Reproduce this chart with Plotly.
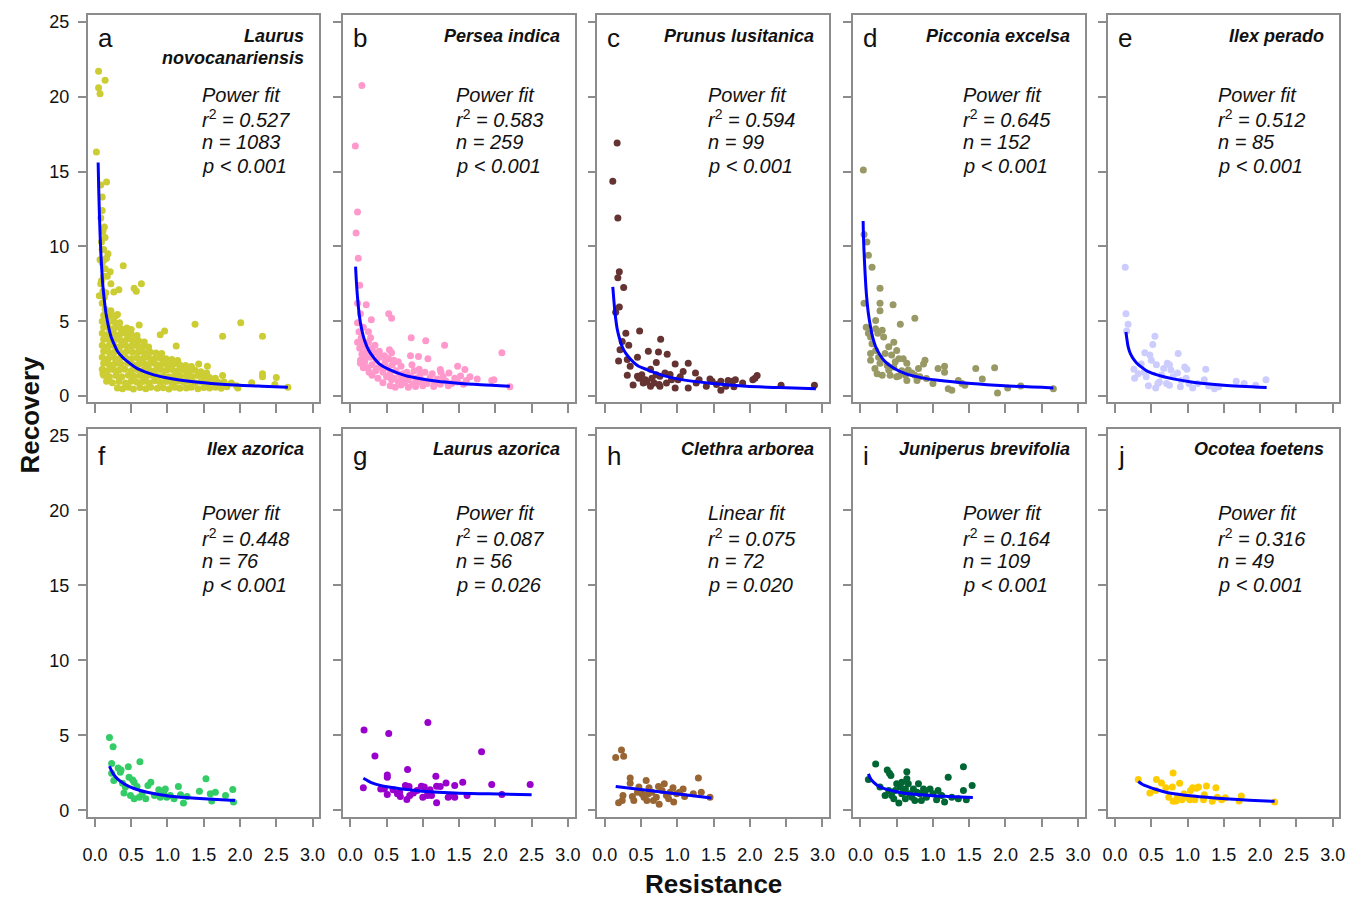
import plotly.graph_objects as go

W, H = 1363, 899

# ---------------- data ----------------
letters = ["a", "b", "c", "d", "e", "f", "g", "h", "i", "j"]
species = [["Laurus", "novocanariensis"], ["Persea indica"], ["Prunus lusitanica"],
           ["Picconia excelsa"], ["Ilex perado"], ["Ilex azorica"], ["Laurus azorica"],
           ["Clethra arborea"], ["Juniperus brevifolia"], ["Ocotea foetens"]]
fit_type = ["Power fit"] * 7 + ["Linear fit"] + ["Power fit"] * 2
r2_vals = ["0.527", "0.583", "0.594", "0.645", "0.512", "0.448", "0.087", "0.075", "0.164", "0.316"]
n_vals = ["1083", "259", "99", "152", "85", "76", "56", "72", "109", "49"]
p_vals = ["< 0.001", "< 0.001", "< 0.001", "< 0.001", "< 0.001", "< 0.001", "= 0.026", "= 0.020", "< 0.001", "< 0.001"]
colors = ["#CCCC33", "#FF99CC", "#663333", "#999966", "#CCCCFF",
          "#33CC66", "#9900CC", "#996633", "#006633", "#FFCC00"]

x_ticks = [0.0, 0.5, 1.0, 1.5, 2.0, 2.5, 3.0]
y_ticks = [0, 5, 10, 15, 20, 25]

pts_a = [
    [0.05, 21.7], [0.05, 20.6], [0.07, 20.2], [0.14, 21.1], [0.02, 16.3], [0.16, 14.3], [0.08, 14.1],
    [0.10, 13.3], [0.10, 12.4], [0.08, 11.9], [0.13, 11.3], [0.11, 11.0], [0.10, 9.8], [0.18, 9.5],
    [0.13, 9.1], [0.07, 9.1], [0.39, 8.7], [0.21, 8.3], [0.17, 8.0], [0.08, 7.5], [0.22, 7.5],
    [0.54, 7.2], [0.57, 7.0], [0.64, 7.5], [0.33, 7.1], [0.26, 6.95], [0.06, 6.7], [0.31, 5.45],
    [1.38, 4.8], [2.01, 4.9], [2.31, 4.0], [1.76, 4.0], [1.12, 3.35], [0.90, 4.1], [0.96, 4.35],
    [0.61, 4.75], [1.55, 2.0], [1.43, 2.15], [2.31, 1.5], [2.31, 1.3], [2.50, 1.25], [1.76, 1.37],
    [2.16, 0.9], [1.97, 0.55], [2.66, 0.6], [2.48, 0.77], [0.11, 1.5], [1.95, 0.7],
    [0.10, 6.2], [0.13, 6.6], [0.11, 7.0], [0.15, 6.9], [0.09, 7.7], [0.12, 8.0], [0.14, 8.5],
    [0.10, 8.9], [0.16, 9.2], [0.12, 9.8], [0.09, 10.3], [0.14, 10.6],
    [0.31, 0.55], [0.38, 0.5], [0.46, 0.6], [0.53, 0.48], [0.62, 0.58], [0.70, 0.5], [0.77, 0.6],
    [0.86, 0.52], [0.94, 0.56], [1.02, 0.48], [1.10, 0.6], [1.17, 0.52], [1.26, 0.55], [1.33, 0.6],
    [1.42, 0.5], [1.50, 0.58], [1.58, 0.55], [1.66, 0.6], [1.74, 0.52], [1.82, 0.62],
    [0.16, 1.0], [0.24, 0.9], [0.33, 0.97], [0.42, 0.88], [0.50, 1.0], [0.58, 0.92], [0.66, 0.98],
    [0.74, 0.9], [0.82, 1.02], [0.90, 0.93], [0.98, 0.97], [1.06, 0.9], [1.14, 1.0], [1.22, 0.92],
    [1.30, 0.98], [1.38, 0.9], [1.46, 0.96], [1.54, 0.9], [1.62, 0.98], [1.70, 0.92], [1.78, 0.95],
    [1.88, 0.88],
    [0.12, 1.4], [0.20, 1.3], [0.29, 1.38], [0.37, 1.3], [0.46, 1.4], [0.54, 1.32], [0.62, 1.37],
    [0.70, 1.3], [0.78, 1.4], [0.86, 1.33], [0.94, 1.36], [1.02, 1.3], [1.10, 1.38], [1.18, 1.32],
    [1.26, 1.36], [1.34, 1.3], [1.42, 1.37], [1.50, 1.3], [1.58, 1.25], [1.66, 1.2],
    [0.10, 1.8], [0.17, 1.7], [0.25, 1.78], [0.33, 1.72], [0.41, 1.8], [0.50, 1.7], [0.58, 1.78],
    [0.66, 1.72], [0.74, 1.8], [0.82, 1.7], [0.90, 1.77], [0.98, 1.72], [1.06, 1.78], [1.14, 1.7],
    [1.22, 1.74], [1.30, 1.68], [1.38, 1.72], [1.46, 1.62], [1.54, 1.55],
    [0.12, 2.2], [0.20, 2.1], [0.28, 2.18], [0.36, 2.12], [0.45, 2.2], [0.53, 2.1], [0.61, 2.17],
    [0.69, 2.12], [0.77, 2.2], [0.85, 2.1], [0.93, 2.16], [1.01, 2.1], [1.09, 2.15], [1.17, 2.08],
    [1.25, 2.05], [1.33, 1.98],
    [0.10, 2.6], [0.18, 2.5], [0.26, 2.58], [0.34, 2.52], [0.42, 2.6], [0.50, 2.5], [0.58, 2.57],
    [0.66, 2.52], [0.74, 2.58], [0.82, 2.5], [0.90, 2.55], [0.98, 2.5], [1.06, 2.45], [1.14, 2.38],
    [0.12, 3.0], [0.20, 2.92], [0.28, 2.98], [0.36, 2.9], [0.44, 3.0], [0.52, 2.93], [0.60, 2.97],
    [0.68, 2.9], [0.76, 2.95], [0.84, 2.88], [0.92, 2.85],
    [0.10, 3.4], [0.18, 3.32], [0.26, 3.38], [0.34, 3.3], [0.42, 3.4], [0.50, 3.33], [0.58, 3.37],
    [0.66, 3.3], [0.74, 3.28],
    [0.12, 3.8], [0.20, 3.72], [0.28, 3.78], [0.36, 3.7], [0.44, 3.8], [0.52, 3.72], [0.60, 3.7],
    [0.68, 3.62],
    [0.10, 4.2], [0.18, 4.12], [0.26, 4.18], [0.34, 4.1], [0.42, 4.2], [0.50, 4.12], [0.58, 4.05],
    [0.12, 4.6], [0.20, 4.52], [0.28, 4.58], [0.36, 4.5], [0.44, 4.55], [0.50, 4.45],
    [0.10, 5.0], [0.18, 4.92], [0.26, 4.98], [0.34, 4.9],
    [0.12, 5.4], [0.20, 5.32], [0.28, 5.35], [0.14, 5.8], [0.22, 5.7],
]
pts_b = [
    [0.16, 20.75], [0.07, 16.7], [0.10, 12.3], [0.08, 10.9], [0.11, 9.2], [0.13, 7.4], [0.10, 6.2],
    [0.22, 6.1], [0.53, 5.5], [0.57, 5.2], [0.14, 5.5], [0.10, 4.9], [0.29, 5.1], [0.10, 3.6],
    [0.14, 2.2], [0.84, 3.9], [1.04, 3.7], [1.30, 3.4], [2.09, 2.9], [0.83, 2.7], [0.94, 2.65],
    [1.07, 2.5], [0.54, 3.1], [0.57, 2.9], [1.48, 2.0], [1.58, 1.77], [1.75, 1.15], [1.98, 1.1],
    [1.95, 1.04], [2.20, 0.62], [1.24, 1.77],
    [0.12, 4.3], [0.15, 3.9], [0.18, 4.6], [0.20, 3.4], [0.13, 3.2], [0.16, 2.8], [0.22, 3.0],
    [0.25, 3.6], [0.28, 2.6], [0.30, 3.2], [0.33, 2.9], [0.36, 2.4], [0.20, 2.3], [0.24, 1.9],
    [0.30, 2.1], [0.35, 1.7], [0.40, 2.6], [0.42, 2.0], [0.45, 1.6], [0.48, 2.3], [0.50, 1.3],
    [0.52, 1.9], [0.55, 1.5], [0.58, 2.1], [0.60, 1.2], [0.63, 1.7], [0.66, 1.0], [0.68, 1.45],
    [0.70, 2.0], [0.72, 1.2], [0.75, 0.9], [0.78, 1.6], [0.80, 1.1], [0.83, 1.35], [0.86, 0.8],
    [0.88, 1.7], [0.90, 1.2], [0.93, 0.95], [0.96, 1.4], [1.00, 1.05], [1.03, 1.6], [1.06, 0.85],
    [1.10, 1.25], [1.13, 1.5], [1.16, 0.9], [1.20, 1.15], [1.24, 0.8], [1.28, 1.3], [1.32, 1.0],
    [1.36, 1.55], [1.40, 0.85], [1.44, 1.2], [1.48, 0.95], [1.52, 1.35], [1.56, 0.8], [1.60, 1.05],
    [1.65, 1.3], [0.30, 1.4], [0.38, 1.2], [0.45, 0.9], [0.55, 0.7], [0.62, 0.6], [0.70, 0.75],
    [0.26, 1.6], [0.18, 1.9], [0.22, 2.6], [0.34, 3.4], [0.40, 3.0], [0.47, 2.7], [0.53, 2.5],
    [0.60, 2.4], [0.66, 2.3], [0.38, 1.9], [0.57, 1.1], [0.73, 1.5], [0.85, 2.1], [0.95, 1.8],
    [1.00, 0.7], [1.15, 0.65], [0.80, 0.6], [0.90, 0.65], [1.25, 1.6], [1.35, 0.7], [0.14, 2.4],
    [0.17, 3.6], [0.25, 4.3], [0.28, 3.9],
]
pts_c = [
    [0.17, 16.9], [0.11, 14.35], [0.18, 11.9], [0.20, 8.3], [0.18, 7.9], [0.26, 7.25], [0.20, 5.95],
    [0.15, 5.6], [0.29, 4.2], [0.48, 4.35], [0.77, 3.8], [0.24, 3.65], [0.33, 3.4], [0.21, 3.1],
    [0.60, 3.0], [0.74, 2.95], [0.86, 2.8], [0.19, 2.35], [0.31, 2.45], [0.35, 2.0], [0.45, 2.6],
    [0.71, 2.25], [0.97, 2.15], [1.15, 2.2], [0.31, 1.4], [0.39, 0.75], [0.47, 1.2], [0.56, 1.1],
    [0.63, 1.8], [0.68, 0.88], [0.75, 0.77], [0.83, 1.55], [0.90, 1.45], [0.97, 0.55], [1.04, 1.3],
    [1.08, 1.65], [1.15, 0.55], [1.25, 1.55], [1.30, 1.1], [1.45, 1.15], [1.48, 1.0], [1.60, 1.0],
    [1.60, 0.4], [1.70, 1.05], [1.76, 1.0], [1.80, 1.1], [1.78, 0.62], [1.90, 0.88], [2.04, 1.1],
    [2.07, 1.2], [2.10, 1.37], [2.43, 0.73], [2.89, 0.73], [0.58, 0.95], [0.63, 0.66], [0.53, 0.88],
    [0.76, 1.33], [0.85, 0.88], [0.92, 1.1], [1.01, 1.1], [0.76, 0.66], [1.40, 0.66], [1.26, 0.88],
    [1.54, 0.77], [1.67, 0.66], [0.45, 1.33], [0.51, 1.43], [0.65, 1.2], [0.71, 1.43],
]
pts_d = [
    [0.04, 15.1], [0.05, 10.8], [0.09, 10.3], [0.11, 9.4], [0.16, 8.6], [0.27, 7.2], [0.05, 6.2],
    [0.27, 6.2], [0.45, 6.1], [0.27, 5.7], [0.75, 5.2], [0.55, 4.8], [0.08, 4.6], [0.21, 5.05],
    [0.21, 4.5], [0.14, 3.95], [0.11, 4.2], [0.24, 4.2], [0.30, 4.4], [0.32, 3.95], [0.46, 3.6],
    [0.39, 3.3], [0.50, 3.05], [0.16, 3.5], [0.14, 2.85], [0.21, 3.05], [0.25, 2.6], [0.34, 2.85],
    [0.43, 2.75], [0.53, 2.5], [0.59, 2.5], [0.64, 2.2], [0.14, 2.4], [0.20, 1.85], [0.27, 2.2],
    [0.30, 1.4], [0.39, 1.75], [0.46, 1.95], [0.53, 1.35], [0.64, 1.05], [0.71, 1.55], [0.80, 1.85],
    [0.87, 2.15], [0.89, 2.4], [0.82, 1.3], [0.78, 1.05], [1.00, 0.85], [1.07, 1.85], [1.16, 2.0],
    [1.16, 1.6], [1.21, 0.5], [1.26, 0.4], [1.35, 1.05], [1.40, 0.85], [1.44, 0.73], [1.59, 1.85],
    [1.68, 1.15], [1.85, 1.9], [1.89, 0.2], [2.03, 0.55], [2.21, 0.67], [2.66, 0.5], [0.62, 1.4],
    [0.57, 1.7], [0.48, 2.3], [0.37, 2.05], [0.23, 1.5], [0.41, 1.4], [0.50, 1.3], [0.66, 1.75],
    [0.75, 1.4], [0.91, 1.17],
]
pts_e = [
    [0.14, 8.6], [0.15, 5.5], [0.18, 4.8], [0.16, 4.35], [0.55, 4.0], [0.52, 3.45], [0.87, 2.85],
    [0.41, 2.9], [0.48, 2.75], [0.26, 1.8], [0.27, 1.2], [0.40, 1.6], [0.43, 1.3], [0.46, 0.7],
    [0.50, 2.4], [0.57, 2.1], [0.56, 0.55], [0.61, 0.95], [0.64, 1.4], [0.67, 1.85], [0.72, 2.2],
    [0.75, 2.1], [0.75, 0.73], [0.71, 0.85], [0.86, 1.55], [0.90, 0.62], [0.96, 1.95], [0.99, 1.8],
    [0.98, 1.2], [1.02, 0.85], [1.07, 0.55], [1.25, 1.8], [1.23, 1.1], [1.37, 0.5], [1.43, 0.62],
    [1.67, 1.0], [1.78, 0.85], [1.94, 0.73], [2.08, 1.1], [0.36, 2.15], [0.32, 1.5], [0.80, 1.3],
    [0.91, 1.05], [1.14, 0.85], [1.29, 0.67], [0.59, 0.85], [0.77, 1.75],
]
pts_f = [
    [0.20, 4.86], [0.25, 4.24], [0.23, 3.13], [0.23, 2.47], [0.32, 2.83], [0.36, 2.69], [0.46, 2.91],
    [0.62, 3.24], [0.35, 2.54], [0.38, 1.81], [0.40, 1.15], [0.47, 2.2], [0.52, 2.03], [0.54, 1.88],
    [0.49, 0.99], [0.54, 0.77], [0.58, 1.59], [0.61, 0.88], [0.65, 1.1], [0.70, 0.77], [0.73, 1.66],
    [0.77, 1.88], [0.82, 0.99], [0.88, 1.37], [0.95, 1.1], [0.97, 1.43], [0.99, 0.88], [1.04, 0.99],
    [1.09, 0.77], [1.15, 1.59], [1.18, 1.04], [1.22, 0.49], [1.27, 0.93], [1.44, 1.28], [1.53, 2.1],
    [1.59, 1.1], [1.61, 0.62], [1.66, 1.21], [1.80, 0.99], [1.90, 1.39], [1.91, 0.55], [0.26, 1.99],
    [0.42, 1.55], [0.90, 0.88],
]
pts_g = [
    [0.19, 5.36], [0.53, 5.12], [1.07, 5.85], [0.34, 3.62], [1.81, 3.9], [0.79, 2.72], [0.51, 2.36],
    [0.51, 2.21], [1.18, 2.27], [0.18, 1.5], [0.42, 1.43], [0.47, 1.43], [0.51, 1.06], [0.59, 1.37],
    [0.68, 1.21], [0.69, 0.93], [0.76, 1.66], [0.78, 0.73], [0.81, 1.59], [0.82, 0.99], [0.87, 1.15],
    [0.98, 1.61], [1.00, 0.88], [1.02, 1.55], [1.06, 0.99], [1.10, 1.37], [1.12, 0.99], [1.19, 1.61],
    [1.19, 0.51], [1.24, 1.59], [1.32, 1.83], [1.35, 0.88], [1.40, 0.99], [1.44, 0.88], [1.44, 1.66],
    [1.55, 1.88], [1.61, 0.99], [1.95, 1.72], [2.09, 1.06], [2.48, 1.72], [0.65, 1.1], [0.92, 1.32],
    [1.08, 1.21],
]
pts_h = [
    [0.15, 3.53], [0.23, 4.02], [0.26, 3.6], [0.35, 2.16], [0.35, 1.81], [0.57, 1.99], [1.29, 2.16],
    [0.19, 0.51], [0.24, 0.66], [0.25, 0.99], [0.38, 0.93], [0.40, 0.66], [0.45, 1.21], [0.51, 1.1],
    [0.54, 0.88], [0.58, 0.66], [0.61, 1.5], [0.65, 1.21], [0.67, 0.66], [0.71, 0.88], [0.74, 1.59],
    [0.75, 0.4], [0.79, 1.32], [0.82, 1.77], [0.85, 0.99], [0.90, 1.21], [0.94, 1.5], [0.95, 0.55],
    [0.99, 1.1], [1.03, 1.21], [1.08, 1.43], [1.10, 0.93], [1.22, 1.1], [1.33, 1.21], [1.45, 0.88],
    [0.47, 1.55], [0.88, 0.77], [0.60, 1.1],
]
pts_i = [
    [0.21, 3.09], [0.11, 2.05], [0.37, 2.69], [0.40, 2.47], [0.42, 2.32], [0.64, 2.58], [1.42, 2.91],
    [1.21, 2.21], [1.54, 1.66], [1.42, 1.32], [0.27, 1.55], [0.34, 0.99], [0.43, 0.99], [0.53, 0.49],
    [0.48, 1.32], [0.55, 1.55], [0.59, 1.21], [0.62, 0.77], [0.66, 1.77], [0.68, 1.1], [0.73, 1.43],
    [0.75, 0.66], [0.80, 1.77], [0.82, 1.1], [0.87, 1.43], [0.91, 0.88], [0.96, 1.43], [1.00, 1.1],
    [1.05, 0.71], [1.12, 0.99], [1.16, 0.55], [1.26, 0.88], [1.35, 0.77], [1.46, 0.71], [0.50, 1.77],
    [0.57, 1.88], [0.62, 1.43], [0.71, 0.88], [0.84, 0.66], [0.89, 1.21], [0.39, 1.32], [0.46, 0.77],
    [1.07, 1.32], [0.57, 1.1], [0.78, 1.21], [0.64, 2.1],
]
pts_j = [
    [0.32, 2.05], [0.80, 2.49], [0.57, 2.05], [0.64, 1.83], [0.48, 1.15], [0.56, 1.32], [0.70, 1.5],
    [0.74, 0.88], [0.79, 1.55], [0.80, 0.6], [0.84, 0.62], [0.89, 1.81], [0.92, 0.71], [0.95, 1.1],
    [1.03, 0.71], [1.04, 1.32], [1.07, 1.5], [1.10, 0.71], [1.12, 1.48], [1.15, 1.55], [1.22, 0.71],
    [1.23, 1.04], [1.26, 1.63], [1.34, 0.6], [1.39, 1.5], [1.41, 0.88], [1.47, 0.71], [1.52, 0.84],
    [1.71, 0.62], [1.74, 0.95], [2.20, 0.55], [0.86, 0.88], [0.97, 0.88],
]

fit_a_x = [0.044, 0.052, 0.06, 0.07, 0.082, 0.095, 0.105, 0.125, 0.15, 0.18, 0.22, 0.27, 0.31, 0.38,
           0.45, 0.58, 0.7, 0.81, 1.04, 1.3, 1.6, 2.0, 2.3, 2.66]
fit_a_y = [15.6, 13.8, 12.4, 10.9, 9.5, 8.4, 7.6, 6.6, 5.6, 4.8, 4.0, 3.4, 3.0, 2.6,
           2.3, 1.85, 1.6, 1.42, 1.18, 0.99, 0.85, 0.72, 0.66, 0.6]
fit_b_x = [0.073, 0.085, 0.1, 0.127, 0.16, 0.195, 0.25, 0.31, 0.4, 0.54, 0.76, 0.99, 1.2, 1.45, 1.8, 2.2]
fit_b_y = [8.65, 7.6, 6.6, 5.3, 4.4, 3.75, 3.1, 2.65, 2.15, 1.77, 1.37, 1.15, 1.0, 0.88, 0.76, 0.66]
fit_c_x = [0.11, 0.125, 0.14, 0.17, 0.2, 0.24, 0.29, 0.35, 0.45, 0.58, 0.81, 1.04, 1.49, 1.95, 2.4, 2.91]
fit_c_y = [7.3, 6.4, 5.6, 4.5, 3.9, 3.3, 2.85, 2.5, 2.05, 1.77, 1.37, 1.12, 0.84, 0.66, 0.57, 0.49]
fit_d_x = [0.037, 0.045, 0.06, 0.075, 0.09, 0.11, 0.14, 0.17, 0.21, 0.27, 0.34, 0.45, 0.62, 0.85,
           1.07, 1.53, 1.99, 2.66]
fit_d_y = [11.7, 10.2, 8.6, 7.3, 6.4, 5.5, 4.6, 3.9, 3.3, 2.75, 2.3, 1.9, 1.5, 1.22,
           1.06, 0.84, 0.69, 0.55]
fit_e_x = [0.15, 0.165, 0.18, 0.21, 0.25, 0.3, 0.36, 0.45, 0.59, 0.8, 1.05, 1.5, 2.09]
fit_e_y = [4.28, 3.75, 3.3, 2.85, 2.5, 2.2, 1.95, 1.65, 1.4, 1.15, 0.95, 0.73, 0.58]
fit_f_x = [0.2, 0.25, 0.31, 0.4, 0.49, 0.6, 0.72, 0.88, 1.04, 1.25, 1.5, 1.93]
fit_f_y = [2.94, 2.45, 2.1, 1.78, 1.55, 1.36, 1.21, 1.06, 0.94, 0.85, 0.77, 0.66]
fit_g_x = [0.18, 0.25, 0.31, 0.4, 0.53, 0.75, 0.99, 1.44, 1.9, 2.5]
fit_g_y = [2.14, 1.95, 1.81, 1.68, 1.55, 1.4, 1.28, 1.15, 1.1, 1.04]
fit_h_x = [0.15, 1.47]
fit_h_y = [1.59, 0.82]
fit_i_x = [0.11, 0.14, 0.18, 0.23, 0.3, 0.4, 0.53, 0.68, 0.84, 1.0, 1.21, 1.55]
fit_i_y = [2.43, 2.1, 1.88, 1.68, 1.5, 1.35, 1.21, 1.1, 1.04, 0.98, 0.93, 0.86]
fit_j_x = [0.32, 0.38, 0.47, 0.58, 0.7, 0.87, 1.07, 1.3, 1.52, 1.85, 2.2]
fit_j_y = [1.92, 1.72, 1.55, 1.37, 1.21, 1.07, 0.95, 0.85, 0.77, 0.68, 0.6]

all_pts = [pts_a, pts_b, pts_c, pts_d, pts_e, pts_f, pts_g, pts_h, pts_i, pts_j]
all_fx = [fit_a_x, fit_b_x, fit_c_x, fit_d_x, fit_e_x, fit_f_x, fit_g_x, fit_h_x, fit_i_x, fit_j_x]
all_fy = [fit_a_y, fit_b_y, fit_c_y, fit_d_y, fit_e_y, fit_f_y, fit_g_y, fit_h_y, fit_i_y, fit_j_y]

# ---------------- layout geometry (pixels) ----------------
col_left = [83.3, 340.7, 597.3, 855.0, 1111.7]
box_w = 233.5
rows = [(12.3, 402.5), (429.0, 820.0)]
stat_dx = [113, 112, 109, 109, 109]
stat_base = [[99.3, 123.5, 147.5, 171.5], [521.5, 545.5, 569.5, 593.5]]
letter_base = [44, 465]
species_base = [39.3, 456.0]

FONT = "Arial, 'Liberation Sans', Helvetica, sans-serif"
AXC = "#8c8c8c"


def px(x):
    return x / W


def py(y):
    return 1 - y / H


fig = go.Figure()
layout = dict(width=W, height=H, margin=dict(l=0, r=0, t=0, b=0),
              plot_bgcolor="white", paper_bgcolor="white", showlegend=False,
              font=dict(family=FONT, color="#111111"))
annotations = []

for k in range(10):
    r, c = divmod(k, 5)
    ax = "" if k == 0 else str(k + 1)
    x0 = col_left[c]
    top, bot = rows[r]
    layout["xaxis" + ax] = dict(
        domain=[px(x0), px(x0 + box_w)], range=[-0.101, 3.092], anchor="y" + ax,
        showline=True, mirror=True, linecolor=AXC, linewidth=1.5,
        ticks="outside", ticklen=9, tickwidth=1.5, tickcolor=AXC,
        tickvals=x_ticks, ticktext=["%.1f" % v for v in x_ticks],
        showticklabels=(r == 1), tickfont=dict(size=18, color="#111111", family=FONT),
        ticklabelstandoff=12, showgrid=False, zeroline=False)
    layout["yaxis" + ax] = dict(
        domain=[py(bot), py(top)], range=[-0.417, 25.44], anchor="x" + ax,
        showline=True, mirror=True, linecolor=AXC, linewidth=1.5,
        ticks="outside", ticklen=8, tickwidth=1.5, tickcolor=AXC,
        tickvals=y_ticks, showticklabels=(c == 0),
        tickfont=dict(size=18, color="#111111", family=FONT),
        ticklabelstandoff=5, showgrid=False, zeroline=False)

    pts = all_pts[k]
    fig.add_trace(go.Scatter(x=[p[0] for p in pts], y=[p[1] for p in pts], mode="markers",
                             marker=dict(size=7, color=colors[k], line=dict(width=0)),
                             xaxis="x" + ax, yaxis="y" + ax, hoverinfo="skip"))
    fig.add_trace(go.Scatter(x=all_fx[k], y=all_fy[k], mode="lines",
                             line=dict(color="#0000FF", width=3, shape="spline", smoothing=0.8),
                             xaxis="x" + ax, yaxis="y" + ax, hoverinfo="skip"))

    # panel letter
    annotations.append(dict(text=letters[k], x=px(x0 + 8), y=py(letter_base[r] - 8.5),
                            xref="paper", yref="paper", xanchor="left", yanchor="middle",
                            showarrow=False, font=dict(size=26, color="#111111", family=FONT)))
    # species name
    for li, line in enumerate(species[k]):
        annotations.append(dict(text="<b><i>%s</i></b>" % line,
                                x=px(x0 + box_w - 13), y=py(species_base[r] + 22.4 * li - 6),
                                xref="paper", yref="paper", xanchor="right", yanchor="middle",
                                showarrow=False, font=dict(size=18, color="#111111", family=FONT)))
    # stats
    lines = ["<i>%s</i>" % fit_type[k],
             "<i>r</i><sup>2</sup><i> = %s</i>" % r2_vals[k],
             "<i>n = %s</i>" % n_vals[k],
             "<i>p %s</i>" % p_vals[k].replace("<", "&lt;")]
    for li, t in enumerate(lines):
        annotations.append(dict(text=t, x=px(x0 + stat_dx[c]), y=py(stat_base[r][li] - 7),
                                xref="paper", yref="paper", xanchor="left", yanchor="middle",
                                showarrow=False, font=dict(size=20, color="#111111", family=FONT)))

annotations.append(dict(text="<b>Recovery</b>", x=px(25), y=py(415), xref="paper", yref="paper",
                        xanchor="center", yanchor="middle", textangle=-90, showarrow=False,
                        font=dict(size=26, color="#111111", family=FONT)))
annotations.append(dict(text="<b>Resistance</b>", x=px(714), y=py(888), xref="paper", yref="paper",
                        xanchor="center", yanchor="middle", showarrow=False,
                        font=dict(size=26, color="#111111", family=FONT)))
layout["annotations"] = annotations
fig.update_layout(**layout)
fig.write_html("out.html")
